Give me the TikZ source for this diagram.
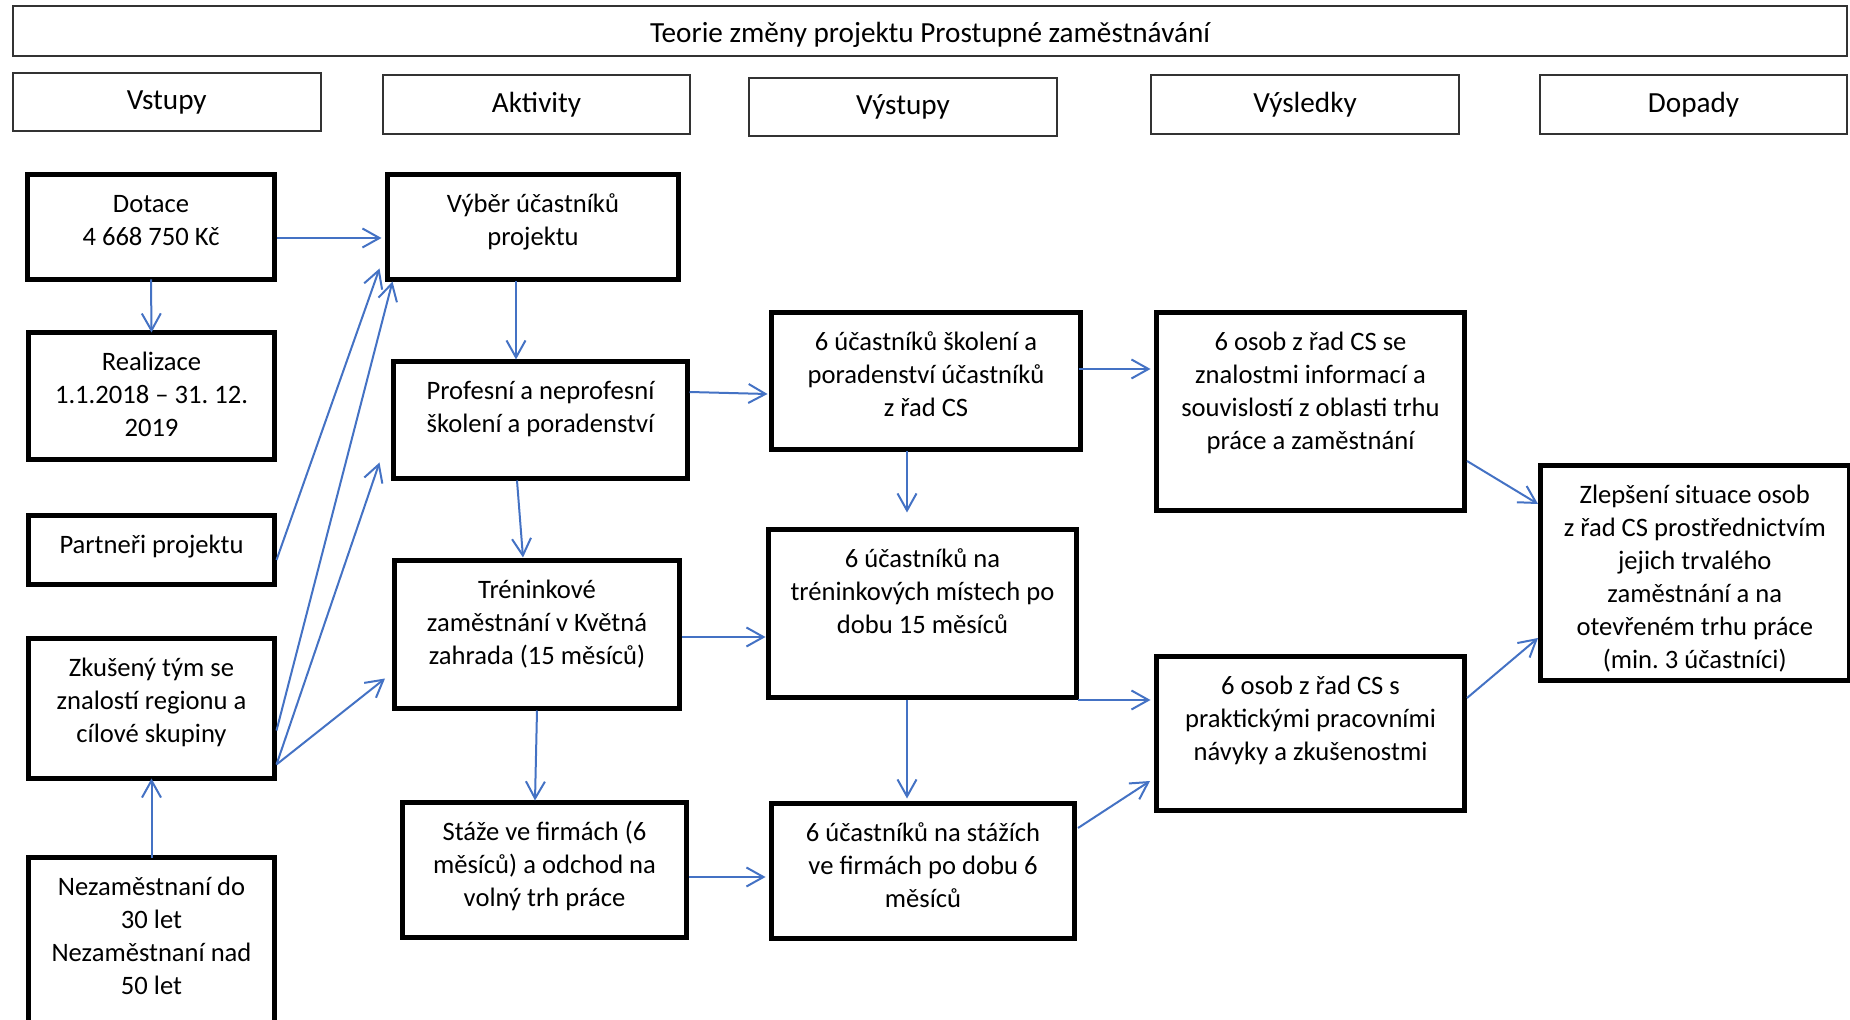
\documentclass[tikz,border=0pt]{standalone}
\usepackage{fontspec}
\setmainfont{Carlito}
\frenchspacing
\usetikzlibrary{arrows.meta,calc}
\definecolor{flowblue}{RGB}{68,114,196}
\newcommand*{\boxfont}{\fontsize{13.3}{16.5}\selectfont}
\newcommand*{\headfont}{\fontsize{14.6}{17.5}\selectfont}
\tikzset{
   headbox/.style = {
      draw       = black!80,
      line width = 1pt,
      inner sep  = 0pt,
      outer sep  = 0pt,
      anchor     = north west,
      font       = \headfont
   },
   tocbox/.style = {
      draw       = black,
      line width = 2.5pt,
      inner sep  = 0pt,
      outer sep  = 0pt,
      anchor     = north west,
      font       = \boxfont
   },
   flow/.style = {
      draw       = flowblue,
      line width = 1pt,
      -{Straight Barb[length = 8.5pt, width = 9.5pt]}
   }
}
\newcommand{\tocnode}[6]{%
   % name, left, top, right, bottom (pixels), text
   \pgfmathsetmacro{\bw}{(#4-#2)/2}
   \pgfmathsetmacro{\bh}{(#5-#3)/2}
   \node[tocbox] (#1) at (#2,#3) {%
      \parbox[c][\bh pt][t]{\bw pt}{\centering\vspace*{7.3pt}\strut #6}%
   };
}

\begin{document}
\begin{tikzpicture}[x = 0.5pt, y = -0.5pt]
   \useasboundingbox (0,0) rectangle (1850,1020);

   % title and column heads
   \node[headbox, minimum width = 917pt, minimum height = 25pt,
         text height = 14.5pt, text depth = 3pt] (title) at (13,6)
      {Teorie změny projektu Prostupné zaměstnávání};
   \node[headbox, minimum width = 153.75pt, minimum height = 29pt] (vstupy) at (13,73) {Vstupy};
   \node[headbox, minimum width = 153.5pt, minimum height = 29.5pt] (aktivity) at (383,75) {Aktivity};
   \node[headbox, minimum width = 154pt, minimum height = 29pt] (vystupy) at (749,78) {Výstupy};
   \node[headbox, minimum width = 154pt, minimum height = 29.5pt] (vysledky) at (1151,75) {Výsledky};
   \node[headbox, minimum width = 153.5pt, minimum height = 29.5pt] (dopady) at (1540,75) {Dopady};

   % vstupy
   \tocnode{dotace}{27.5}{174.5}{274.5}{279.5}{Dotace\\4 668 750 Kč}
   \tocnode{realiz}{28.5}{332.5}{274.5}{459.5}{Realizace\\1.1.2018 – 31. 12.\\2019}
   \tocnode{partneri}{28.5}{515.5}{274.5}{584.5}{Partneři projektu}
   \tocnode{zkuseny}{28.5}{638.5}{274.5}{778.5}{Zkušený tým se\\znalostí regionu a\\cílové skupiny}
   \tocnode{nezam}{28.5}{857.5}{274.5}{1040}{Nezaměstnaní do\\30 let\\Nezaměstnaní nad\\50 let}

   % aktivity
   \tocnode{vyber}{387.5}{174.5}{678.5}{279.5}{Výběr účastníků\\projektu}
   \tocnode{profesni}{393.5}{361.5}{687.5}{478.5}{Profesní a neprofesní\\školení a poradenství}
   \tocnode{trenink}{394.5}{560.5}{679.5}{708.5}{Tréninkové\\zaměstnání v Květná\\zahrada (15 měsíců)}
   \tocnode{staze}{402.5}{802.5}{686.5}{937.5}{Stáže ve firmách (6\\měsíců) a odchod na\\volný trh práce}

   % vystupy
   \tocnode{skol6}{771.5}{312.5}{1080.5}{449.5}{6 účastníků školení a\\poradenství účastníků\\z řad CS}
   \tocnode{tren6}{768.5}{529.5}{1076.5}{697.5}{6 účastníků na\\tréninkových místech po\\dobu 15 měsíců}
   \tocnode{staz6}{771.5}{803.5}{1074.5}{938.5}{6 účastníků na stážích\\ve firmách po dobu 6\\měsíců}

   % vysledky a dopady
   \tocnode{osob1}{1156.5}{312.5}{1464.5}{510.5}{6 osob z řad CS se\\znalostmi informací a\\souvislostí z oblasti trhu\\práce a zaměstnání}
   \tocnode{osob2}{1156.5}{656.5}{1464.5}{810.5}{6 osob z řad CS s\\praktickými pracovními\\návyky a zkušenostmi}
   \tocnode{zlep}{1540.5}{465.5}{1849}{680.5}{Zlepšení situace osob\\z řad CS prostřednictvím\\jejich trvalého\\zaměstnání a na\\otevřeném trhu práce\\(min. 3 účastníci)}

   % vazby
   \draw[flow] ($(dotace.east)+(2,11)$) -- ($(vyber.west)+(-6,11)$);
   \draw[flow] (dotace.south) -- (realiz.north);
   \draw[flow] ($(partneri.east)+(2,10)$) -- ($(vyber.south west)+(-8,-11)$);
   \draw[flow] ($(zkuseny.east)+(2,22)$) -- ($(vyber.south west)+(5,2)$);
   \draw[flow] ($(zkuseny.east)+(2,56)$) -- ($(profesni.south west)+(-14,-16)$);
   \draw[flow] ($(zkuseny.east)+(2,56)$) -- ($(trenink.south west)+(-9.5,-30)$);
   \draw[flow] (nezam.north) -- (zkuseny.south);
   \draw[flow] ($(vyber.south)+(-17,2)$) -- ($(profesni.north)+(-24.5,-2)$);
   \draw[flow] ($(profesni.south)+(-23.5,2)$) -- ($(trenink.north)+(-14,-3)$);
   \draw[flow] ($(trenink.south)+(0,2)$) -- ($(staze.north)+(-9.5,-2)$);
   \draw[flow] ($(profesni.east)+(2,-28)$) -- ($(skol6.west)+(-4,13)$);
   \draw[flow] ($(trenink.east)+(2,2.5)$) -- ($(tren6.west)+(-3,23.5)$);
   \draw[flow] ($(staze.east)+(2,7)$) -- ($(staz6.west)+(-6,6)$);
   \draw[flow] ($(skol6.south)+(-19,2)$) -- ($(tren6.north)+(-15.5,-17)$);
   \draw[flow] ($(tren6.south)+(-15.5,2)$) -- ($(staz6.north)+(-16,-5)$);
   \draw[flow] ($(skol6.east)+(-2,-12)$) -- ($(osob1.west)+(-6,-42.5)$);
   \draw[flow] ($(tren6.south east)+(1.5,2.5)$) -- ($(osob2.west)+(-6,-33.5)$);
   \draw[flow] ($(staz6.east)+(3.5,-43)$) -- ($(osob2.west)+(-6.5,47.5)$);
   \draw[flow] ($(osob1.east)+(2.5,49.5)$) -- ($(zlep.west)+(-2.5,-69)$);
   \draw[flow] ($(osob2.east)+(2.5,-35.5)$) -- ($(zlep.west)+(-2.5,65)$);
\end{tikzpicture}
\end{document}
